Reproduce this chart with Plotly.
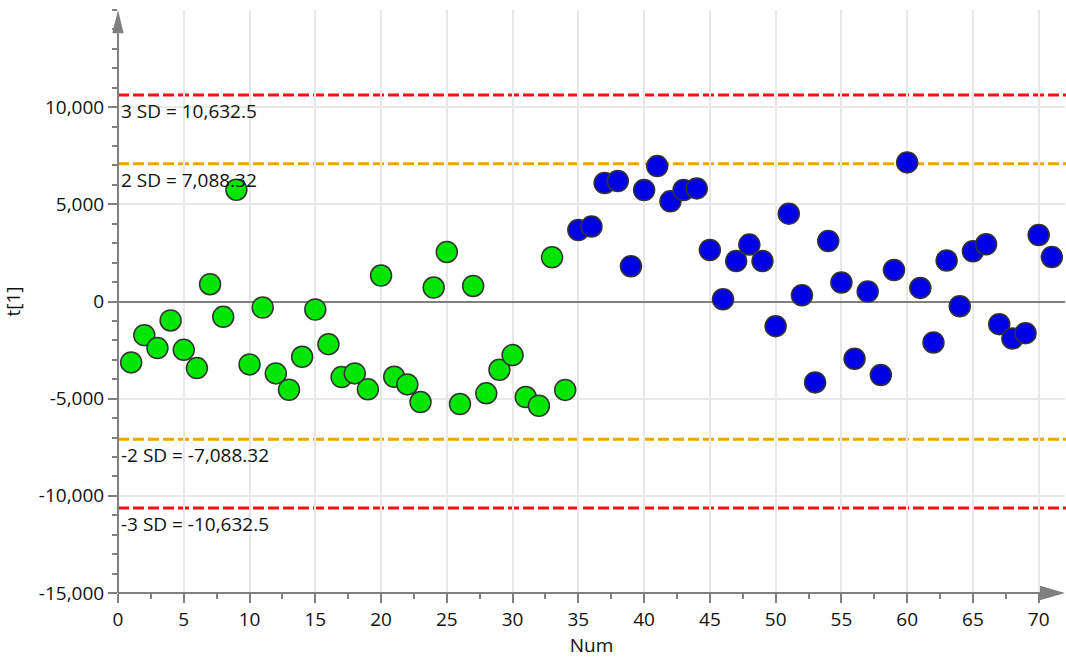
import plotly.graph_objects as go

# ---- data ----
num_green = list(range(1, 35))
t1_green = [-3134, -1731, -2399, -976, -2487, -3427, 889, -791, 5754, -3237,
            -308, -3699, -4541, -2845, -411, -2194, -3889, -3699, -4521, 1336,
            -3874, -4265, -5174, 719, 2548, -5276, 801, -4727, -3514, -2759,
            -4917, -5364, 2276, -4550]
num_blue = list(range(35, 72))
t1_blue = [3680, 3853, 6094, 6197, 1814, 5735, 6968, 5153, 5735, 5821,
           2651, 118, 2086, 2928, 2086, -1269, 4521, 324, -4162, 3114,
           976, -2949, 514, -3786, 1624, 7157, 699, -2107, 2106, -241,
           2584, 2944, -1166, -1901, -1629, 3422, 2291]

sd_levels = [3, 2, -2, -3]
sd_values = [10632.5, 7088.32, -7088.32, -10632.5]
sd_colors = ["#FF1010", "#F5A300", "#F5A300", "#FF1010"]

y_tickvals = [10000, 5000, 0, -5000, -10000, -15000]
y_ticktext = ["10,000", "5,000", "0", "-5,000", "-10,000", "-15,000"]
x_tickvals = list(range(0, 71, 5))

FONT = "Open Sans"
FS = 19
AX = "#808080"

fig = go.Figure()

for xs, ys, col in [(num_green, t1_green, "#00E600"), (num_blue, t1_blue, "#0000E6")]:
    fig.add_trace(go.Scatter(
        x=xs, y=ys, mode="markers",
        marker=dict(size=21, color=col, line=dict(color="#333333", width=1.5)),
        showlegend=False, hoverinfo="x+y"))

shapes = []
annotations = []
for k, v, c in zip(sd_levels, sd_values, sd_colors):
    shapes.append(dict(type="line", xref="paper", yref="y", x0=0, x1=1.01, y0=v, y1=v,
                       line=dict(color=c, width=3, dash="11px,4px"), layer="between"))
    annotations.append(dict(x=0, y=v, xref="x", yref="y", xanchor="left", yanchor="top",
                            text=f"{k} SD = {v:,}", showarrow=False, xshift=1, yshift=-1,
                            font=dict(family=FONT, size=FS, color="#111111")))

# axis lines with arrows
shapes += [
    dict(type="line", xref="paper", yref="paper", x0=0, x1=0.9736, y0=0, y1=0,
         line=dict(color=AX, width=2), layer="above"),
    dict(type="line", xref="paper", yref="paper", x0=0, x1=0, y0=0, y1=0.96,
         line=dict(color=AX, width=2), layer="above"),
    dict(type="path", xref="paper", yref="paper",
         path="M 0.9736,-0.0125 L 1,0 L 0.9736,0.0125 Z",
         fillcolor=AX, line=dict(width=0), layer="above"),
    dict(type="path", xref="paper", yref="paper",
         path="M -0.0060,0.960 L 0,1 L 0.0060,0.960 Z",
         fillcolor=AX, line=dict(width=0), layer="above"),
]

fig.update_layout(
    width=1066, height=659,
    margin=dict(l=118, r=1, t=10, b=66),
    paper_bgcolor="white", plot_bgcolor="white",
    font=dict(family=FONT, size=FS, color="#111111"),
    shapes=shapes, annotations=annotations,
    xaxis=dict(range=[0, 72], tickvals=x_tickvals, showline=False, zeroline=False,
               showgrid=True, gridcolor="#E8E8E8", gridwidth=1.5,
               ticks="outside", ticklen=9, tickwidth=1.5, tickcolor=AX,
               minor=dict(dtick=2.5, tick0=0, ticks="outside", ticklen=5, tickwidth=1.5,
                          tickcolor=AX, showgrid=False),
               title=dict(text="Num", standoff=7, font=dict(family=FONT, size=FS)),
               tickfont=dict(family=FONT, size=FS)),
    yaxis=dict(range=[-15000, 15000], tickvals=y_tickvals, ticktext=y_ticktext,
               showline=False, zeroline=True, zerolinecolor=AX, zerolinewidth=1.5,
               showgrid=True, gridcolor="#E8E8E8", gridwidth=1.5,
               ticks="outside", ticklen=9, tickwidth=1.5, tickcolor=AX,
               minor=dict(dtick=1000, tick0=0, ticks="outside", ticklen=5, tickwidth=1.5,
                          tickcolor=AX, showgrid=False),
               title=dict(text="t[1]", standoff=14, font=dict(family=FONT, size=FS)),
               tickfont=dict(family=FONT, size=FS)),
)

fig.write_html("out.html")
